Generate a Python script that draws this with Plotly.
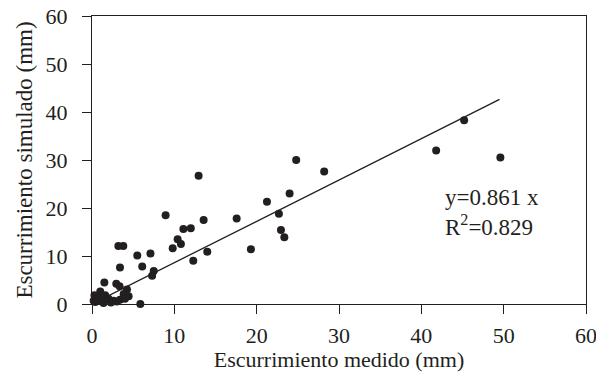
import plotly.graph_objects as go

x_meas = [45.2, 41.8, 49.6, 28.2, 24.8, 12.95, 24.0, 21.25, 22.7, 8.94, 13.56, 17.57,
          11.1, 12.0, 22.95, 23.36, 10.4, 10.8, 9.8, 14.0, 19.3, 12.3, 3.2, 3.8,
          5.5, 7.1, 3.4, 6.1, 7.5, 7.3, 1.5, 2.95, 3.35, 4.25, 3.85, 1.0, 0.6, 5.87,
          0.2, 1.4, 2.6, 4.45, 3.4, 2.0, 1.0, 1.6, 0.4, 4.0, 0.8, 2.3, 3.0, 1.2, 0.3]
y_sim = [38.3, 32.0, 30.5, 27.6, 30.0, 26.7, 23.0, 21.3, 18.8, 18.5, 17.5, 17.8,
         15.6, 15.8, 15.4, 13.9, 13.5, 12.5, 11.6, 10.9, 11.4, 9.0, 12.1, 12.1,
         10.1, 10.5, 7.6, 7.8, 6.9, 5.9, 4.5, 4.2, 3.7, 3.0, 2.1, 2.6, 1.4, 0.0,
         0.7, 0.2, 0.7, 1.6, 0.9, 1.1, 0.7, 1.8, 0.4, 1.1, 1.0, 0.3, 0.5, 1.4, 1.8]

slope = 0.861
fit_x = [0, 49.5]
fit_y = [slope * v for v in fit_x]

tick_vals = [0, 10, 20, 30, 40, 50, 60]
font_family = "Liberation Serif"
ink = "#231f20"

fig = go.Figure()
fig.add_trace(go.Scatter(x=fit_x, y=fit_y, mode="lines",
                         line=dict(color=ink, width=1.3), showlegend=False))
fig.add_trace(go.Scatter(x=x_meas, y=y_sim, mode="markers",
                         marker=dict(color=ink, size=8), cliponaxis=False,
                         showlegend=False))

fig.add_annotation(x=42.6, y=22.2, xref="x", yref="y", text="y=0.861 x",
                   showarrow=False, xanchor="left", yanchor="middle",
                   font=dict(family=font_family, size=23, color=ink))
fig.add_annotation(x=42.6, y=16.4, xref="x", yref="y", text="R<sup>2</sup>=0.829",
                   showarrow=False, xanchor="left", yanchor="middle",
                   font=dict(family=font_family, size=23, color=ink))

axis_common = dict(range=[0, 60], tickvals=tick_vals, showgrid=False, zeroline=False,
                   showline=True, linecolor=ink, linewidth=1.3, mirror=True,
                   ticks="outside", ticklen=9, tickcolor=ink, tickwidth=1.3,
                   automargin=False, ticklabeloverflow="allow",
                   tickfont=dict(family=font_family, size=22, color=ink))

fig.update_xaxes(title=dict(text="Escurrimiento medido (mm)",
                            font=dict(family=font_family, size=22, color=ink),
                            standoff=4), ticklabelstandoff=2, **axis_common)
fig.update_yaxes(title=dict(text="Escurrimiento simulado (mm)",
                            font=dict(family=font_family, size=23, color=ink),
                            standoff=6), ticklabelstandoff=10, **axis_common)

fig.update_layout(width=596, height=364, margin=dict(l=84, r=18, t=8, b=68),
                  plot_bgcolor="white", paper_bgcolor="white",
                  font=dict(family=font_family, color=ink))

fig.write_html("out.html")
